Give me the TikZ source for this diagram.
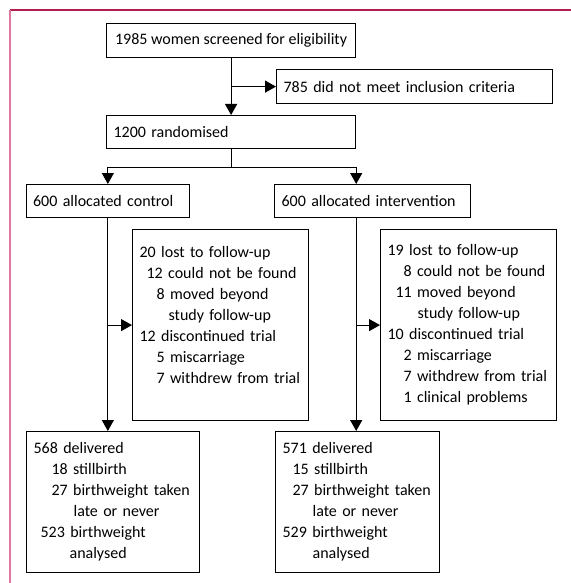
\documentclass[tikz,border=0pt]{standalone}
\usepackage{fontspec}
\setmainfont{Carlito}
\usetikzlibrary{calc, arrows.meta}
\definecolor{framered}{RGB}{178,30,78}
\definecolor{framepink}{RGB}{222,120,160}

\begin{document}
\begin{tikzpicture}[x=0.5pt, y=-0.5pt, font=\fontsize{8}{10.5}\selectfont,
			box/.style={draw, line width=0.6pt, anchor=north west, align=left, inner xsep=3.5pt, inner ysep=0pt},
			arr/.style={line width=0.6pt, -{Triangle[length=5.5pt,width=6pt]}},
			l_1/.style={line width=0.6pt}]
			\useasboundingbox (0,0) rectangle (571,583);
			% frame
			\draw[framered, line width=0.6pt] (10,10) -- (571,10);
			\draw[framepink, line width=0.9pt] (10,10) -- (10,583);
			
			% boxes
			\node[box, minimum width=124.5pt, minimum height=17pt] (screen) at (106,23) {1985 women screened for eligibility};
			\node[box, text width=131pt, minimum height=17pt] (excl) at (276,69) {785 did not meet inclusion criteria};
			\node[box, text width=117.5pt, minimum height=16.5pt] (rand) at (106,115) {1200 randomised};
			\node[box, text width=74.75pt, minimum height=16.5pt] (ctrl) at (25.5,184) {600 allocated control};
			\node[box, text width=91pt, minimum height=16.5pt] (intv) at (274,184) {600 allocated intervention};
			
			\node[box, text width=81pt, minimum height=95.5pt] (lostc) at (132,229) {20 lost to follow-up\\
				\hspace*{3.5pt}12 could not be found\\
				\hspace*{8.5pt}8 moved beyond\\
				\hspace*{14.5pt}study follow-up\\
				12 discontinued trial\\
				\hspace*{8.5pt}5 miscarriage\\
				\hspace*{8.5pt}7 withdrew from trial\\
				\mbox{}};
			\node[box, text width=81pt, minimum height=95.5pt] (losti) at (380,229) {19 lost to follow-up\\
				\hspace*{8pt}8 could not be found\\
				\hspace*{4pt}11 moved beyond\\
				\hspace*{15pt}study follow-up\\
				10 discontinued trial\\
				\hspace*{8pt}2 miscarriage\\
				\hspace*{8pt}7 withdrew from trial\\
				\hspace*{8pt}1 clinical problems};
			
			\node[box, text width=79.5pt, minimum height=70.5pt] (delc) at (26,431) {568 delivered\\
				\hspace*{9pt}18 stillbirth\\
				\hspace*{9pt}27 birthweight taken\\
				\hspace*{20pt}late or never\\
				\hspace*{3.5pt}523 birthweight\\
				\hspace*{18pt}analysed};
			\node[box, text width=75pt, minimum height=70.5pt] (deli) at (275,431) {571 delivered\\
				\hspace*{5pt}15 stillbirth\\
				\hspace*{5pt}27 birthweight taken\\
				\hspace*{15pt}late or never\\
				529 birthweight\\
				\hspace*{15pt}analysed};
			
			% connectors
			\draw[arr] (screen.south) -- (rand.north);
			\draw[arr] (screen.south |- excl.west) -- (excl.west);
			\draw[l_1] (rand.south) -- ++(0,18) coordinate (split);
			\draw[arr] (split) -| (ctrl.north);
			\draw[arr] (split) -| (rand.east |- intv.north);
			
			\draw[arr] (ctrl.south) -- (ctrl.south |- delc.north);
			\draw[arr] (ctrl.south |- lostc.west) -- (lostc.west);
			\draw[arr] (rand.east |- intv.south) -- (rand.east |- deli.north);
			\draw[arr] (rand.east |- losti.west) -- (losti.west);
		\end{tikzpicture}
\end{document}
